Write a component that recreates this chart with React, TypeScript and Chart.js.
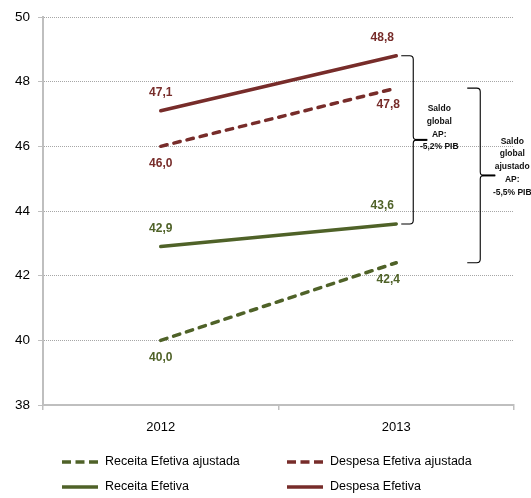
import { useEffect, useRef } from "react";
import { Chart, registerables } from "chart.js";

Chart.register(...registerables);

// Receita e despesa efetiva (% do PIB), 2012-2013
const YEARS = ["2012", "2013"];
const RECEITA_AJUSTADA = [40.0, 42.4];
const DESPESA_AJUSTADA = [46.0, 47.8];
const RECEITA_EFETIVA = [42.9, 43.6];
const DESPESA_EFETIVA = [47.1, 48.8];

const Y_MIN = 38;
const Y_MAX = 50;
const Y_STEP = 2;

const SALDO_GLOBAL_TEXT = ["Saldo", "global", "AP:", "-5,2% PIB"];
const SALDO_AJUSTADO_TEXT = ["Saldo", "global", "ajustado", "AP:", "-5,5% PIB"];

const GREEN = "#4F6228";
const RED = "#772C2A";
const AXIS_GRAY = "#BFBFBF";
const GRID_GRAY = "#A6A6A6";
const FONT = "'Liberation Sans', Arial, sans-serif";

const W = 531;
const H = 498;

type Series = {
  label: string;
  data: number[];
  color: string;
  dashed: boolean;
  labelPos: "above" | "below";
};

const SERIES: Series[] = [
  { label: "Receita Efetiva ajustada", data: RECEITA_AJUSTADA, color: GREEN, dashed: true, labelPos: "below" },
  { label: "Despesa Efetiva ajustada", data: DESPESA_AJUSTADA, color: RED, dashed: true, labelPos: "below" },
  { label: "Receita Efetiva", data: RECEITA_EFETIVA, color: GREEN, dashed: false, labelPos: "above" },
  { label: "Despesa Efetiva", data: DESPESA_EFETIVA, color: RED, dashed: false, labelPos: "above" },
];

const fmt = (v: number) => v.toFixed(1).replace(".", ",");

// value labels next to each point
const valueLabels = {
  id: "valueLabels",
  afterDatasetsDraw(chart: any) {
    const ctx = chart.ctx;
    ctx.save();
    ctx.font = `bold 12px ${FONT}`;
    ctx.textAlign = "center";
    ctx.textBaseline = "middle";
    SERIES.forEach((s, di) => {
      const meta = chart.getDatasetMeta(di);
      const above = s.labelPos === "above";
      meta.data.forEach((pt: any, i: number) => {
        const dx = i === 0 ? 0 : above ? -14 : -8;
        const dy = above ? -18 : 17;
        ctx.fillStyle = s.color;
        ctx.fillText(fmt(s.data[i]), pt.x + dx, pt.y + dy);
      });
    });
    ctx.restore();
  },
};

function drawBrace(ctx: CanvasRenderingContext2D, xArm: number, xV: number, xTip: number, yTop: number, yBot: number) {
  const yMid = (yTop + yBot) / 2;
  const r = 3.5;
  ctx.beginPath();
  ctx.moveTo(xArm, yTop);
  ctx.lineTo(xV - r, yTop);
  ctx.quadraticCurveTo(xV, yTop, xV, yTop + r);
  ctx.lineTo(xV, yMid - r);
  ctx.quadraticCurveTo(xV, yMid, xV + r, yMid);
  ctx.lineTo(xTip, yMid);
  ctx.moveTo(xV + r, yMid);
  ctx.quadraticCurveTo(xV, yMid, xV, yMid + r);
  ctx.lineTo(xV, yBot - r);
  ctx.quadraticCurveTo(xV, yBot, xV - r, yBot);
  ctx.lineTo(xArm, yBot);
  ctx.stroke();
  // thicker pointer
  ctx.save();
  ctx.lineWidth = 2;
  ctx.beginPath();
  ctx.moveTo(xV + 2, yMid);
  ctx.lineTo(xTip, yMid);
  ctx.stroke();
  ctx.restore();
}

function drawTextBlock(ctx: CanvasRenderingContext2D, lines: string[], cx: number, yStart: number) {
  lines.forEach((t, i) => ctx.fillText(t, cx, yStart + i * 12.7));
}

// braces showing the global balance between revenue and expenditure in 2013
const balanceBraces = {
  id: "balanceBraces",
  afterDatasetsDraw(chart: any) {
    const ctx = chart.ctx;
    const y = chart.scales.y;
    const x0 = chart.scales.x.getPixelForValue(1);
    ctx.save();
    ctx.strokeStyle = "#000";
    ctx.lineWidth = 1.1;
    ctx.fillStyle = "#111";
    ctx.font = `bold 8.5px ${FONT}`;
    ctx.textAlign = "center";
    ctx.textBaseline = "middle";

    const t1 = y.getPixelForValue(DESPESA_EFETIVA[1]);
    const b1 = y.getPixelForValue(RECEITA_EFETIVA[1]);
    drawBrace(ctx, x0 + 5, x0 + 17, x0 + 31, t1, b1);
    drawTextBlock(ctx, SALDO_GLOBAL_TEXT, x0 + 43, (t1 + b1) / 2 - 31);

    const t2 = y.getPixelForValue(DESPESA_AJUSTADA[1]);
    const b2 = y.getPixelForValue(RECEITA_AJUSTADA[1]);
    drawBrace(ctx, x0 + 71, x0 + 84, x0 + 99, t2, b2);
    drawTextBlock(ctx, SALDO_AJUSTADO_TEXT, x0 + 116, (t2 + b2) / 2 - 34);
    ctx.restore();
  },
};

// two-column legend under the axis
const gridLegend = {
  id: "gridLegend",
  afterDraw(chart: any) {
    const ctx = chart.ctx;
    const cols = [62, 287];
    const rows = [462, 487];
    ctx.save();
    ctx.font = `12.5px ${FONT}`;
    ctx.textBaseline = "middle";
    ctx.textAlign = "left";
    SERIES.forEach((s, i) => {
      const x = cols[i % 2];
      const yy = rows[Math.floor(i / 2)];
      ctx.strokeStyle = s.color;
      ctx.lineWidth = 3.5;
      ctx.lineCap = "butt";
      ctx.setLineDash(s.dashed ? [9, 4.5] : []);
      ctx.beginPath();
      ctx.moveTo(x, yy);
      ctx.lineTo(x + 36, yy);
      ctx.stroke();
      ctx.setLineDash([]);
      ctx.fillStyle = "#000";
      ctx.fillText(s.label, x + 43, yy);
    });
    ctx.restore();
  },
};

export default function App() {
  const ref = useRef<HTMLCanvasElement | null>(null);

  useEffect(() => {
    if (!ref.current) return;
    const chart = new Chart(ref.current, {
      type: "line",
      data: {
        labels: YEARS,
        datasets: SERIES.map((s) => ({
          label: s.label,
          data: s.data,
          borderColor: s.color,
          backgroundColor: s.color,
          borderWidth: 3.5,
          borderDash: s.dashed ? [6.5, 7] : [],
          borderCapStyle: "round" as const,
          pointRadius: 0,
          pointHoverRadius: 0,
          tension: 0,
          fill: false,
        })),
      },
      options: {
        responsive: false,
        animation: false,
        devicePixelRatio: 1,
        layout: { padding: { left: 0, right: 17, top: 17, bottom: 0 } },
        plugins: {
          legend: { display: false },
          tooltip: { enabled: false },
        },
        scales: {
          x: {
            type: "category",
            offset: true,
            afterFit: (s: any) => {
              s.height = 93;
            },
            grid: {
              offset: true,
              drawOnChartArea: false,
              drawTicks: true,
              tickLength: 5,
              color: AXIS_GRAY,
              tickColor: AXIS_GRAY,
              lineWidth: 1.5,
            },
            border: { display: true, color: AXIS_GRAY, width: 2 },
            ticks: {
              color: "#000",
              font: { family: FONT, size: 13 },
              padding: 10,
            },
          },
          y: {
            min: Y_MIN,
            max: Y_MAX,
            afterFit: (s: any) => {
              s.width = 43;
            },
            ticks: {
              stepSize: Y_STEP,
              color: "#000",
              font: { family: FONT, size: 13.5 },
              padding: 8,
            },
            grid: {
              color: GRID_GRAY,
              lineWidth: 1,
              drawTicks: true,
              tickLength: 5,
              tickColor: AXIS_GRAY,
              tickBorderDash: [],
            },
            border: { display: true, color: AXIS_GRAY, width: 2, dash: [1, 1] },
          },
        },
      },
      plugins: [valueLabels, balanceBraces, gridLegend],
    });
    return () => chart.destroy();
  }, []);

  return (
    <div style={{ position: "absolute", left: 0, top: 0, width: W, height: H, background: "#fff" }}>
      <canvas ref={ref} width={W} height={H} style={{ display: "block" }} />
    </div>
  );
}
